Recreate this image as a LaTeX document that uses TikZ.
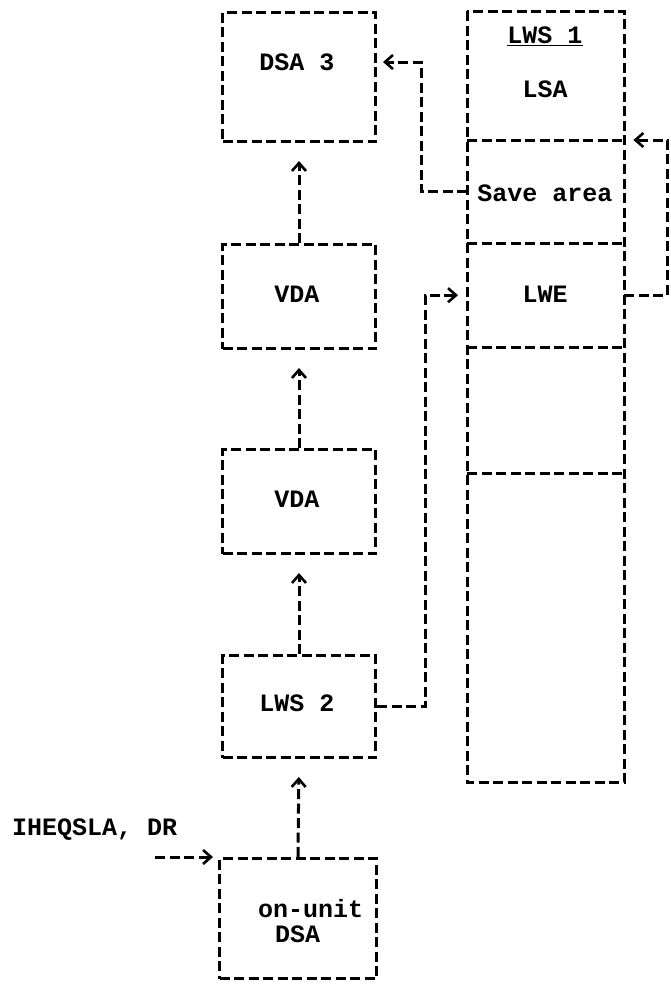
\documentclass[tikz,border=0pt]{standalone}
\usepackage{fontspec}
\setmonofont{Liberation Mono}
\usetikzlibrary{arrows.meta}
\begin{document}
\begin{tikzpicture}[x=1pt,y=-1pt,
  dline/.style={line width=3pt, dash pattern=on 10pt off 4.5pt, line cap=butt},
  box/.style={dline, draw, minimum width=153pt, inner sep=0pt, anchor=north west},
  sect/.style={minimum width=157pt, inner sep=0pt, anchor=north west},
  txt/.style={font=\fontsize{25}{29}\selectfont\ttfamily\bfseries, inner sep=0pt},
  conn/.style={dline, -{Straight Barb[length=8pt,width=14pt,line width=2.6pt]}, shorten >=9pt},
  up/.style={dline, -{Straight Barb[length=8pt,width=14pt,line width=2.6pt]}, shorten >=18pt}]
\useasboundingbox (0,0) rectangle (671,988);
% left column boxes
\node[box, minimum height=129pt] (dsa3) at (221,11) {};
\node[box, minimum height=104pt] (vda1) at (221,243) {};
\node[box, minimum height=104pt] (vda2) at (221,448) {};
\node[box, minimum height=102pt] (lws2) at (221,654) {};
\node[box, minimum width=157pt, minimum height=120pt] (onunit) at (218,857) {};
% left texts
\node[txt] (dsa3t) at (297,62) {DSA 3};
\node[txt] (vda1t) at (297,294) {VDA};
\node[txt] (vda2t) at (297,499) {VDA};
\node[txt] (lws2t) at (297,703) {LWS 2};
\node[txt, anchor=west] (ont) at (258,909) {on-unit};
\node[txt, anchor=west] (dsat) at (275,934) {DSA};
\node[txt, anchor=west] (ihe) at (12,830) {IHEQSLA, DR};
% right column sections
\node[sect, minimum height=129pt] (lws1) at (467,11) {};
\node[sect, minimum height=103pt] (save) at (467,140) {};
\node[sect, minimum height=104pt] (lwe) at (467,243) {};
\node[sect, minimum height=126pt] (e1) at (467,347) {};
\node[sect, minimum height=309pt] (e2) at (467,473) {};
\draw[dline] (lws1.north west) rectangle (e2.south east);
\draw[dline] (save.north west) -- (save.north east);
\draw[dline] (lwe.north west) -- (lwe.north east);
\draw[dline] (e1.north west) -- (e1.north east);
\draw[dline] (e2.north west) -- (e2.north east);
% right texts
\node[txt] (lws1t) at (545,36) {\underline{LWS 1}};
\node[txt] (lsat) at (545,89) {LSA};
\node[txt] (savet) at (545,193) {Save area};
\node[txt] (lwet) at (545,294) {LWE};
% connectors
\coordinate (dsa3in) at (374,62);
\draw[conn] (save.west) -- ++(-46,0) |- (dsa3in);
\draw[conn] (lwe.east) -- ++(43,0) |- (save.north east);
\draw[conn] (lws2.east) -- ++(48,0) |- (lwe.west);
\draw[up] (vda1.north) -- (dsa3.south);
\draw[up] (vda2.north) -- (vda1.south);
\draw[up] (lws2.north) -- (vda2.south);
\draw[up] (onunit.north) -- (lws2.south);
\coordinate (inp) at (155,857);
\draw[conn, shorten >=5pt] (inp) -- (onunit.north west);
\end{tikzpicture}
\end{document}
